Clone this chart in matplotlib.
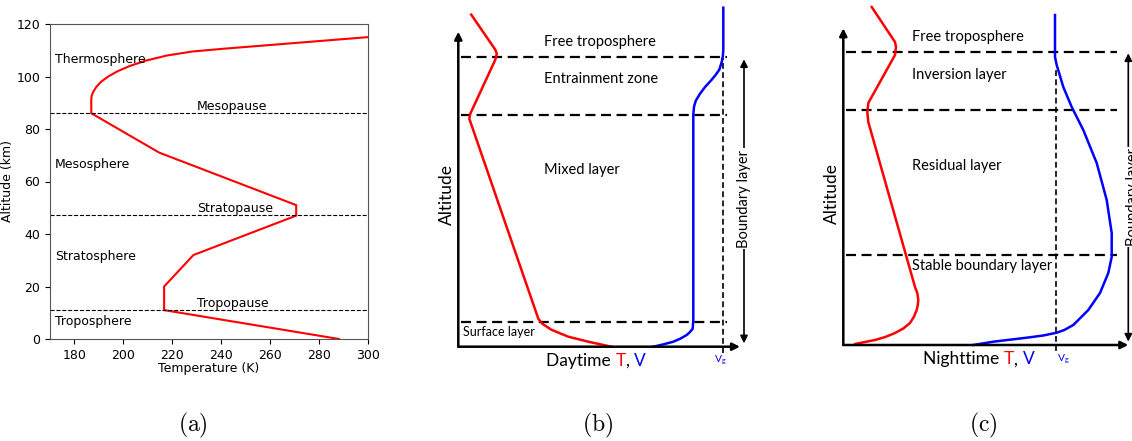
import matplotlib.pyplot as plt

W, H = 1132, 441

# ---- (a) standard atmosphere temperature profile ----
alt_km = [0, 11, 20, 32, 47, 51, 71, 86, 91, 92.5, 94, 96, 98, 100,
          102, 104, 106, 108, 109.5, 110.5, 115]
temp_k = [288.15, 216.65, 216.65, 228.65, 270.65, 270.65, 214.65, 186.87,
          186.87, 187.0, 187.6, 188.9, 190.9, 193.8, 197.6, 202.6, 209.0,
          217.8, 228.0, 240.0, 300.0]
pause_alt = [86, 47.4, 11]
layer_names = ['Thermosphere', 'Mesosphere', 'Stratosphere', 'Troposphere']
layer_label_alt = [106.5, 66.6, 31.6, 6.6]
pause_names = ['Mesopause', 'Stratopause', 'Tropopause']
pause_label_alt = [88.6, 49.9, 13.6]

# ---- (b) daytime boundary layer schematic (arbitrary units) ----
day_T_x = [13, 37, 38.5, 37, 12, 11, 80, 84, 93, 110, 130, 153]
day_T_z = [332, 297, 293, 287, 233, 228, 28, 23, 17, 10, 5, 0]
day_V_x = [265, 265, 264.6, 263.5, 261, 257.5, 253.4, 247, 241.7, 237.5,
           235.7, 235, 235, 234.4, 231.5, 228.4, 222, 215, 205, 195]
day_V_z = [339, 297, 291, 285, 277, 272, 267, 260, 253, 246, 240, 232,
           27, 18, 14.5, 11.7, 8, 5, 2.3, 0]
day_levels = [289.4, 231.7, 25]
day_layers = ['Free troposphere', 'Entrainment zone', 'Mixed layer']
day_layer_z = [304.4, 267.4, 176.7]

# ---- (c) nighttime boundary layer schematic (arbitrary units) ----
night_T_x = [28.4, 51.7, 52.7, 51.7, 25, 24, 25, 71.7, 74, 75, 74.5, 73.4,
             70.5, 66.7, 60, 51.7, 42, 31.7, 20, 12]
night_T_z = [338, 303, 298, 290, 242, 233, 223, 58, 52, 45, 40, 35, 28,
             22, 16.5, 12, 8, 5, 2.7, 1]
night_V_x = [211.7, 211.7, 213.4, 220, 228.4, 240, 253.4, 263.4, 268.4,
             268.4, 265, 256.7, 245, 230, 221, 213.4, 200, 183.4, 150, 130]
night_V_z = [330, 288, 280, 258, 238, 215, 182, 145, 112, 88, 72, 52, 35,
             20, 15, 12.3, 9.5, 7.3, 3.3, 0]
night_levels = [292.7, 235, 90]
night_layers = ['Free troposphere', 'Inversion layer', 'Residual layer',
                'Stable boundary layer']
night_layer_z = [307.7, 270, 179.3, 79.3]

SANS = ['Lato', 'DejaVu Sans']


def px_axes(fig, x0, x1, y0, y1, ox, oy):
    # axes covering pixel box, data units = pixels measured from (ox, oy)
    ax = fig.add_axes([x0 / W, 1 - y1 / H, (x1 - x0) / W, (y1 - y0) / H])
    ax.set_xlim(x0 - ox, x1 - ox)
    ax.set_ylim(oy - y1, oy - y0)
    ax.axis('off')
    return ax


def arrow(ax, start, end, style='-|>', lw=1.8):
    ax.annotate('', xy=end, xytext=start,
                arrowprops=dict(arrowstyle=style, color='k', lw=lw,
                                mutation_scale=11, shrinkA=0, shrinkB=0))


def colored_label(ax, x, y, parts, **kw):
    t = ax.text(x, y, parts[0][0], color=parts[0][1], ha='left',
                va='center', **kw)
    for s, c in parts[1:]:
        t = ax.annotate(s, xy=(1, 0), xycoords=t, color=c, ha='left',
                        va='bottom', **kw)


def schematic(ax, T_x, T_z, V_x, V_z, levels, x_line_end, vg_x, vg_top,
              vg_label_x, top, right, bl_x, bl_top, bl_label, layers,
              layer_z, layer_x, word, word_x):
    arrow(ax, (0, 0), (0, top))
    arrow(ax, (0, 0), (right, 0))
    ax.hlines(levels, 3, x_line_end, colors='k', lw=1.6,
              linestyles=(0, (4.5, 2.5)))
    ax.vlines(vg_x, -6, vg_top, colors='k', lw=1.2,
              linestyles=(0, (3.5, 2)))
    ax.plot(T_x, T_z, color='#ff0000', lw=1.8, solid_joinstyle='round')
    ax.plot(V_x, V_z, color='#0000ff', lw=1.8, solid_joinstyle='round')
    arrow(ax, (bl_x, 3.4), (bl_x, bl_top), style='<|-|>', lw=1.2)
    ax.text(bl_label, 148, 'Boundary layer', rotation=90, ha='center',
            va='center', fontsize=10.5, family=SANS,
            bbox=dict(fc='white', ec='none', pad=1))
    for name, z in zip(layers, layer_z):
        ax.text(layer_x, z, name, ha='left', va='center', fontsize=10.5,
                family=SANS)
    ax.text(-11.6, 152, 'Altitude', rotation=90, ha='center', va='center',
            fontsize=12.5, family=SANS)
    colored_label(ax, word_x, -14.3,
                  [(word, 'k'), ('T', '#ff0000'), (', ', 'k'),
                   ('V', '#0000ff')], fontsize=12.5, family=SANS)
    ax.text(vg_label_x, -14, r'V$_\mathregular{g}$', color='#0000ff',
            fontsize=7.5, ha='center', va='center', family=SANS)


fig = plt.figure(figsize=(W / 100, H / 100), dpi=100)

# (a)
ax = fig.add_axes([50 / W, 1 - 339 / H, 318 / W, 315 / H])
ax.plot(temp_k, alt_km, color='red', lw=1.5)
for z in pause_alt:
    ax.axhline(z, color='k', lw=0.8, ls='--')
for name, z in zip(layer_names, layer_label_alt):
    ax.text(172, z, name, fontsize=9, va='center', ha='left')
for name, z in zip(pause_names, pause_label_alt):
    ax.text(230, z, name, fontsize=9, va='center', ha='left')
ax.set_xlim(170, 300)
ax.set_ylim(0, 120)
ax.set_xticks(range(180, 301, 20))
ax.set_yticks(range(0, 121, 20))
ax.tick_params(labelsize=9, length=3.5, width=0.8)
ax.set_xlabel('Temperature (K)', fontsize=9, labelpad=0)
ax.set_ylabel('Altitude (km)', fontsize=9, labelpad=2)
for s in ax.spines.values():
    s.set_color('#555555')
    s.set_linewidth(0.8)

# (b)
axb = px_axes(fig, 430, 770, 0, 380, 458.3, 346.7)
schematic(axb, day_T_x, day_T_z, day_V_x, day_V_z, day_levels, 268.4,
          265, 289, 261.7, 315, 281.7, 285.7, 287.4, 285.7,
          day_layers, day_layer_z, 86, 'Daytime ', 87.7)
axb.text(5, 14.4, 'Surface layer', ha='left', va='center', fontsize=9,
         family=SANS)

# (c)
axc = px_axes(fig, 815, 1132, 0, 380, 843.3, 345)
schematic(axc, night_T_x, night_T_z, night_V_x, night_V_z, night_levels,
          273.4, 212.2, 278, 219.7, 316.7, 285, 285, 291.7, 289.7,
          night_layers, night_layer_z, 68.4, 'Nighttime ', 80)

for label, x in zip(['(a)', '(b)', '(c)'], [193, 598, 983]):
    fig.text(x / W, 1 - 425 / H, r'$\mathrm{' + label + '}$',
             math_fontfamily='cm', fontsize=17, ha='center', va='center')

fig.savefig('out.png', dpi=100)
